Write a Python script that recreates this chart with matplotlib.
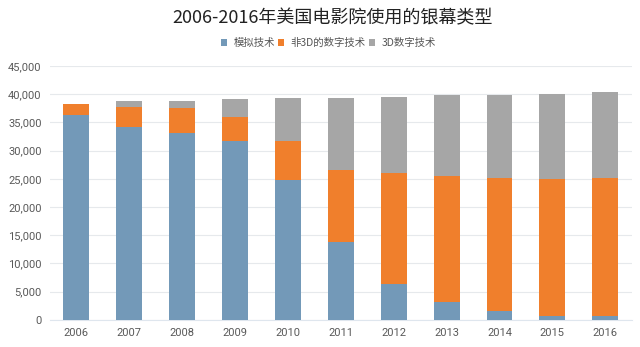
import numpy as np
import matplotlib
matplotlib.use("Agg")
import matplotlib.pyplot as plt
from matplotlib.ticker import FuncFormatter

plt.rcParams['font.family'] = ['Noto Sans CJK SC', 'DejaVu Sans']

years = ['2006', '2007', '2008', '2009', '2010', '2011', '2012', '2013', '2014', '2015', '2016']
analog = [36300, 34200, 33200, 31700, 24800, 13800, 6300, 3100, 1500, 750, 750]
digital_2d = [2000, 3600, 4300, 4300, 6900, 12700, 19700, 22350, 23650, 24200, 24350]
digital_3d = [0, 1000, 1200, 3200, 7700, 12900, 13500, 14400, 14700, 15100, 15200]
labels = ['模拟技术', '非3D的数字技术', '3D数字技术']
colors = ['#7399b8', '#f07f2c', '#a6a6a6']

fig = plt.figure(figsize=(6.4, 3.47), dpi=100)
ax = fig.add_axes([0.078, 0.078, 0.909, 0.732])

x = np.arange(len(years))
a = np.array(analog)
b = np.array(digital_2d)
c = np.array(digital_3d)
w = 0.49
ax.bar(x, a, w, color=colors[0], label=labels[0], zorder=3)
ax.bar(x, b, w, bottom=a, color=colors[1], label=labels[1], zorder=3)
ax.bar(x, c, w, bottom=a + b, color=colors[2], label=labels[2], zorder=3)

ax.set_xlim(-0.5, len(years) - 0.5)
ax.set_ylim(0, 45000)
ax.set_yticks(np.arange(0, 45001, 5000))
ax.yaxis.set_major_formatter(FuncFormatter(lambda v, p: f'{int(v):,}'))
ax.set_xticks(x)
ax.set_xticklabels(years)
for lab in ax.get_xticklabels() + ax.get_yticklabels():
    lab.set_family('Roboto')
    lab.set_fontsize(8)
    lab.set_color('#595959')
ax.tick_params(length=0, pad=6)
ax.grid(axis='y', color='#e6e9ec', linewidth=0.8, zorder=0)
for s in ['top', 'right', 'left']:
    ax.spines[s].set_visible(False)
ax.spines['bottom'].set_color('#dfe6ee')
ax.spines['bottom'].set_linewidth(0.8)

fig.text(0.52, 0.948, '2006-2016年美国电影院使用的银幕类型', ha='center', va='center',
         fontsize=13, color='#222222')
fig.legend(loc='center', bbox_to_anchor=(0.513, 0.876), ncol=3, frameon=False,
           fontsize=7.5, handlelength=0.6, handleheight=0.6, handletextpad=0.6,
           columnspacing=0.3, labelcolor='#555555')

fig.savefig('out.png', dpi=100)
